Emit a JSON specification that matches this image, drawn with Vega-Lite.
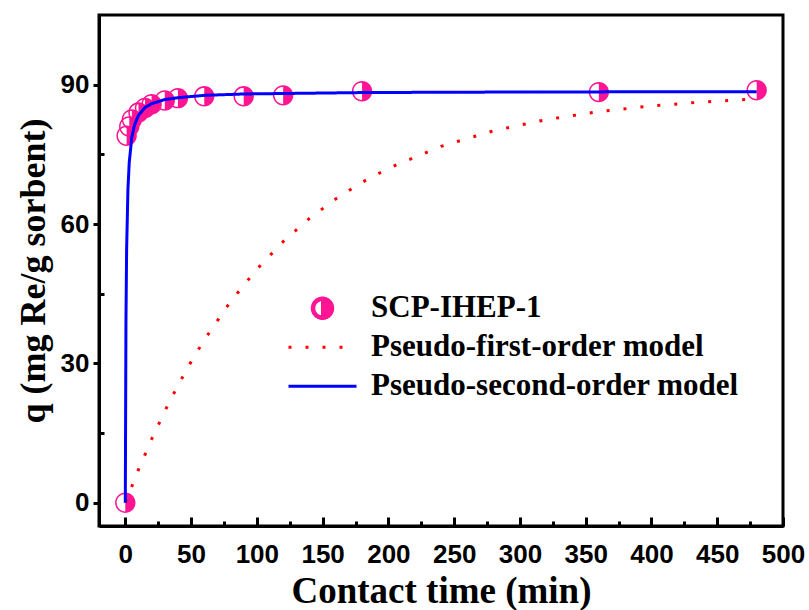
{
  "$schema": "https://vega.github.io/schema/vega-lite/v6.json",
  "width": 684,
  "height": 511,
  "autosize": "none",
  "padding": {"left": 99, "top": 15, "right": 26, "bottom": 84},
  "background": "white",
  "config": {
    "view": {"stroke": "black", "strokeWidth": 3},
    "axis": {
      "domainColor": "black", "domainWidth": 3, "tickColor": "black", "tickWidth": 3,
      "grid": false, "labelFont": "Liberation Sans", "labelFontWeight": "bold", "labelFontSize": 26,
      "labelColor": "black", "titleFont": "Liberation Serif", "titleFontWeight": "bold", "titleColor": "black",
      "labelOverlap": false, "labelFlush": false
    }
  },
  "data": {
    "values": [
      {"series": "SCP-IHEP-1", "t": 0, "q": 0},
      {"series": "SCP-IHEP-1", "t": 1, "q": 79},
      {"series": "SCP-IHEP-1", "t": 3, "q": 81},
      {"series": "SCP-IHEP-1", "t": 5, "q": 82.5},
      {"series": "SCP-IHEP-1", "t": 10, "q": 84},
      {"series": "SCP-IHEP-1", "t": 15, "q": 85},
      {"series": "SCP-IHEP-1", "t": 20, "q": 85.8},
      {"series": "SCP-IHEP-1", "t": 30, "q": 86.6},
      {"series": "SCP-IHEP-1", "t": 40, "q": 87.1},
      {"series": "SCP-IHEP-1", "t": 60, "q": 87.5},
      {"series": "SCP-IHEP-1", "t": 90, "q": 87.5},
      {"series": "SCP-IHEP-1", "t": 120, "q": 87.7},
      {"series": "SCP-IHEP-1", "t": 180, "q": 88.6},
      {"series": "SCP-IHEP-1", "t": 360, "q": 88.4},
      {"series": "SCP-IHEP-1", "t": 480, "q": 88.8},
      {"series": "Pseudo-first-order model", "t": 0, "q": 0},
      {"series": "Pseudo-first-order model", "t": 10, "q": 7.13},
      {"series": "Pseudo-first-order model", "t": 20, "q": 13.68},
      {"series": "Pseudo-first-order model", "t": 30, "q": 19.71},
      {"series": "Pseudo-first-order model", "t": 40, "q": 25.26},
      {"series": "Pseudo-first-order model", "t": 50, "q": 30.36},
      {"series": "Pseudo-first-order model", "t": 60, "q": 35.04},
      {"series": "Pseudo-first-order model", "t": 80, "q": 43.3},
      {"series": "Pseudo-first-order model", "t": 100, "q": 50.29},
      {"series": "Pseudo-first-order model", "t": 120, "q": 56.21},
      {"series": "Pseudo-first-order model", "t": 140, "q": 61.2},
      {"series": "Pseudo-first-order model", "t": 160, "q": 65.42},
      {"series": "Pseudo-first-order model", "t": 180, "q": 68.99},
      {"series": "Pseudo-first-order model", "t": 200, "q": 72.0},
      {"series": "Pseudo-first-order model", "t": 240, "q": 76.71},
      {"series": "Pseudo-first-order model", "t": 280, "q": 80.08},
      {"series": "Pseudo-first-order model", "t": 320, "q": 82.48},
      {"series": "Pseudo-first-order model", "t": 360, "q": 84.2},
      {"series": "Pseudo-first-order model", "t": 400, "q": 85.43},
      {"series": "Pseudo-first-order model", "t": 440, "q": 86.3},
      {"series": "Pseudo-first-order model", "t": 480, "q": 86.93},
      {"series": "Pseudo-second-order model", "t": 0, "q": 0},
      {"series": "Pseudo-second-order model", "t": 0.5, "q": 39.4},
      {"series": "Pseudo-second-order model", "t": 1, "q": 54.5},
      {"series": "Pseudo-second-order model", "t": 2, "q": 67.5},
      {"series": "Pseudo-second-order model", "t": 3, "q": 73.3},
      {"series": "Pseudo-second-order model", "t": 5, "q": 78.8},
      {"series": "Pseudo-second-order model", "t": 7, "q": 81.3},
      {"series": "Pseudo-second-order model", "t": 10, "q": 83.4},
      {"series": "Pseudo-second-order model", "t": 15, "q": 85.1},
      {"series": "Pseudo-second-order model", "t": 20, "q": 85.9},
      {"series": "Pseudo-second-order model", "t": 30, "q": 86.8},
      {"series": "Pseudo-second-order model", "t": 40, "q": 87.2},
      {"series": "Pseudo-second-order model", "t": 60, "q": 87.7},
      {"series": "Pseudo-second-order model", "t": 90, "q": 88.0},
      {"series": "Pseudo-second-order model", "t": 120, "q": 88.1},
      {"series": "Pseudo-second-order model", "t": 180, "q": 88.3},
      {"series": "Pseudo-second-order model", "t": 240, "q": 88.37},
      {"series": "Pseudo-second-order model", "t": 300, "q": 88.42},
      {"series": "Pseudo-second-order model", "t": 360, "q": 88.45},
      {"series": "Pseudo-second-order model", "t": 420, "q": 88.47},
      {"series": "Pseudo-second-order model", "t": 480, "q": 88.49}
    ]
  },
  "encoding": {
    "x": {
      "field": "t", "type": "quantitative",
      "scale": {"domain": [-20, 500], "nice": false, "zero": false},
      "axis": {
        "title": "Contact time (min)", "titleFontSize": 37, "titleY": 76, "titleBaseline": "alphabetic",
        "values": [0, 25, 50, 75, 100, 125, 150, 175, 200, 225, 250, 275, 300, 325, 350, 375, 400, 425, 450, 475, 500],
        "labelExpr": "datum.value % 50 === 0 ? datum.label : ''",
        "tickSize": {"condition": {"test": "datum.value % 50 === 0", "value": -9}, "value": -5},
        "labelPadding": 24
      }
    },
    "y": {
      "field": "q", "type": "quantitative",
      "scale": {"domain": [-5, 105], "nice": false, "zero": false},
      "axis": {
        "title": "q (mg Re/g sorbent)", "titleFontSize": 36, "titlePadding": 8,
        "values": [0, 15, 30, 45, 60, 75, 90],
        "labelExpr": "datum.value % 30 === 0 ? datum.label : ''",
        "tickSize": {"condition": {"test": "datum.value % 30 === 0", "value": 6}, "value": -5},
        "labelPadding": 4
      }
    },
    "color": {
      "field": "series", "type": "nominal",
      "scale": {
        "domain": ["SCP-IHEP-1", "Pseudo-first-order model", "Pseudo-second-order model"],
        "range": ["#ff1493", "#ff0000", "#0000ff"]
      },
      "legend": {
        "title": null, "orient": "none", "legendX": 188, "legendY": 274,
        "labelFont": "Liberation Serif", "labelFontWeight": "bold", "labelFontSize": 31, "labelColor": "black",
        "labelOffset": 13, "symbolSize": 4624, "symbolStrokeWidth": 3, "clipHeight": 38.5, "rowPadding": 0, "padding": 0,
        "labelLimit": 600
      }
    }
  },
  "layer": [
    {
      "transform": [{"filter": "datum.series === 'SCP-IHEP-1'"}],
      "mark": {"type": "point", "filled": true, "size": 4624, "opacity": 1, "strokeWidth": 0},
      "encoding": {
        "shape": {
          "field": "series", "type": "nominal",
          "scale": {
            "domain": ["SCP-IHEP-1", "Pseudo-first-order model", "Pseudo-second-order model"],
            "range": ["M0,-0.3A0.3,0.3 0 0,1 0,0.3Z M0,-0.3A0.3,0.3 0 0,0 0,0.3L0,0.255A0.255,0.255 0 0,1 0,-0.255Z", "stroke", "stroke"]
          },
          "legend": {"title": null}
        }
      }
    },
    {
      "transform": [{"filter": "datum.series !== 'SCP-IHEP-1'"}],
      "mark": {"type": "line", "strokeWidth": 3, "interpolate": "linear"},
      "encoding": {
        "strokeDash": {
          "field": "series", "type": "nominal",
          "scale": {
            "domain": ["SCP-IHEP-1", "Pseudo-first-order model", "Pseudo-second-order model"],
            "range": [[1, 0], [3, 14], [1, 0]]
          },
          "legend": {"title": null}
        }
      }
    }
  ]
}
